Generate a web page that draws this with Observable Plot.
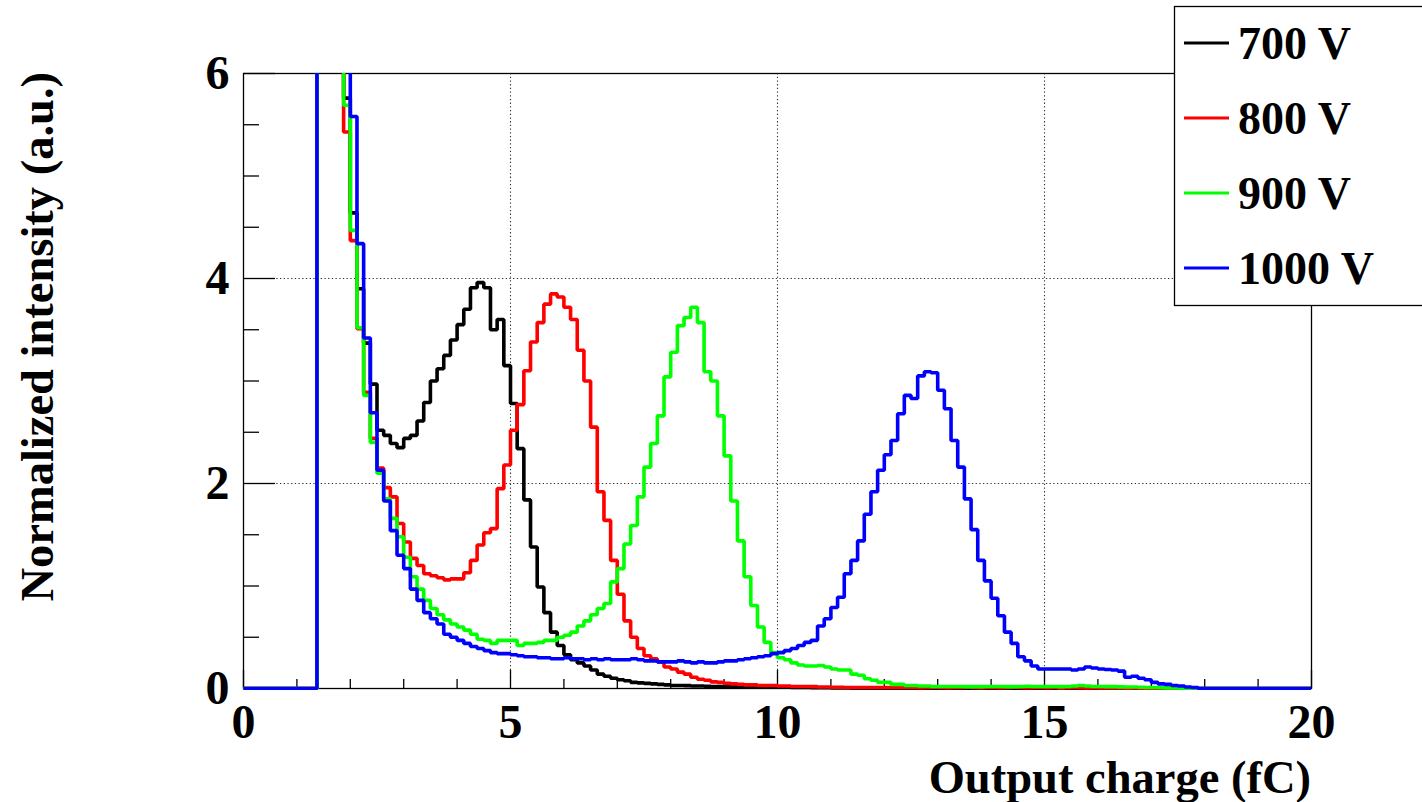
<!DOCTYPE html>
<html>
<head>
<meta charset="utf-8">
<script src="https://cdn.jsdelivr.net/npm/d3@7"></script>
<script src="https://cdn.jsdelivr.net/npm/@observablehq/plot@0.6"></script>
<style>
  html, body { margin: 0; padding: 0; background: #fff; overflow: hidden; }
  #chart { width: 1422px; height: 802px; }
</style>
</head>
<body>
<div id="chart"></div>
<script>
// ---- data ----
const binWidth = 0.125;          // fC per bin, 160 bins over 0..20 fC
const series = ["700 V", "800 V", "900 V", "1000 V"];
const colors = ["#000000", "#ff0000", "#00ff00", "#0000ff"];
const xMajor = [0, 5, 10, 15, 20];
const xMinor = [1, 2, 3, 4, 6, 7, 8, 9, 11, 12, 13, 14, 16, 17, 18, 19];
const yMajor = [0, 2, 4, 6];
const yMinor = [0.5, 1, 1.5, 2.5, 3, 3.5, 4.5, 5, 5.5];
const xGrid = [5, 10, 15];
const yGrid = [2, 4];
const xTitle = "Output charge (fC)";
const yTitle = "Normalized intensity (a.u.)";

// bin contents (values above 6 run off the top of the frame)
const v700 = [
  0,0,0,0,0,0,0,0,0,0,
  0,12,12,12,12,5.76,4.64,3.90,3.37,2.97,
  2.52,2.47,2.39,2.35,2.44,2.47,2.61,2.79,3.00,3.12,
  3.25,3.40,3.55,3.70,3.91,3.96,3.91,3.50,3.60,3.15,
  2.78,2.34,1.84,1.38,0.99,0.74,0.55,0.42,0.33,0.28,
  0.25,0.22,0.18,0.14,0.12,0.10,0.085,0.075,0.06,0.055,
  0.05,0.045,0.04,0.035,0.03,0.03,0.028,0.025,0.025,0.022,
  0.02,0.02,0.018,0.018,0.016,0.016,0.015,0.015,0.014,0.014,
  0.012,0.012,0.01,0.01,0.01,0.008,0.008,0.007,0.006,0.005,
  0.005,0.004,0.004,0.003,0.003,0.002,0.002,0.002,0.001,0.001,
  0,0,0,0,0,0,0,0,0,0,
  0,0,0,0,0,0,0,0,0,0,
  0,0,0,0,0,0,0,0,0,0,
  0,0,0,0,0,0,0,0,0,0,
  0,0,0,0,0,0,0,0,0,0,
  0,0,0,0,0,0,0,0,0,0
];
const v800 = [
  0,0,0,0,0,0,0,0,0,0,
  0,12,12,12,12,5.43,4.37,3.51,2.89,2.44,
  2.15,1.96,1.87,1.61,1.43,1.27,1.20,1.12,1.10,1.08,
  1.06,1.07,1.07,1.13,1.25,1.40,1.52,1.56,1.95,2.18,
  2.52,2.77,3.10,3.38,3.57,3.75,3.85,3.82,3.72,3.60,
  3.30,3.00,2.55,1.92,1.64,1.25,0.92,0.66,0.50,0.39,
  0.32,0.29,0.26,0.21,0.19,0.16,0.14,0.11,0.09,0.08,
  0.065,0.06,0.05,0.045,0.04,0.035,0.035,0.03,0.03,0.03,
  0.025,0.025,0.02,0.02,0.02,0.018,0.015,0.015,0.012,0.012,
  0.01,0.01,0.01,0.01,0.01,0.01,0.01,0.01,0.01,0.01,
  0.01,0.008,0.01,0.012,0.01,0.008,0.01,0.01,0.012,0.01,
  0.008,0.01,0.01,0.008,0.01,0.012,0.01,0.008,0.01,0.01,
  0.008,0.01,0.006,0.008,0.01,0.008,0.006,0.008,0.006,0.005,
  0.006,0.005,0.004,0.005,0.004,0.003,0.003,0.002,0.002,0.001,
  0,0,0,0,0,0,0,0,0,0,
  0,0,0,0,0,0,0,0,0,0
];
const v900 = [
  0,0,0,0,0,0,0,0,0,0,
  0,12,12,12,12,5.69,4.47,3.52,2.86,2.40,
  2.10,1.85,1.66,1.48,1.28,1.09,0.97,0.86,0.78,0.72,
  0.67,0.63,0.60,0.57,0.53,0.48,0.47,0.44,0.47,0.47,
  0.47,0.42,0.44,0.44,0.45,0.47,0.47,0.50,0.52,0.55,
  0.61,0.66,0.72,0.78,0.83,1.04,1.17,1.41,1.59,1.87,
  2.16,2.39,2.66,3.04,3.28,3.54,3.62,3.72,3.57,3.09,
  3.00,2.66,2.27,1.83,1.44,1.09,0.81,0.60,0.45,0.35,
  0.30,0.28,0.25,0.23,0.22,0.22,0.225,0.21,0.19,0.18,
  0.18,0.14,0.13,0.095,0.08,0.06,0.06,0.04,0.04,0.03,
  0.03,0.025,0.025,0.02,0.02,0.02,0.02,0.02,0.018,0.018,
  0.018,0.02,0.02,0.02,0.018,0.018,0.02,0.022,0.02,0.02,
  0.02,0.02,0.018,0.02,0.025,0.03,0.025,0.02,0.02,0.018,
  0.018,0.016,0.015,0.014,0.012,0.01,0.01,0.008,0.006,0.005,
  0.004,0.003,0.002,0,0,0,0,0,0,0,
  0,0,0,0,0,0,0,0,0,0
];
const v1000 = [
  0,0,0,0,0,0,0,0,0,0,
  0,12,12,12,12,12,5.58,4.34,3.42,2.69,
  2.13,1.83,1.54,1.30,1.17,0.97,0.86,0.74,0.68,0.63,
  0.53,0.50,0.47,0.44,0.41,0.39,0.37,0.35,0.34,0.34,
  0.33,0.32,0.31,0.31,0.30,0.30,0.29,0.29,0.30,0.29,
  0.29,0.28,0.29,0.28,0.29,0.28,0.28,0.28,0.29,0.28,
  0.27,0.27,0.26,0.26,0.26,0.27,0.26,0.25,0.26,0.25,
  0.25,0.26,0.27,0.27,0.28,0.29,0.30,0.31,0.32,0.34,
  0.35,0.37,0.39,0.42,0.45,0.47,0.61,0.68,0.79,0.89,
  1.12,1.25,1.44,1.70,1.92,2.13,2.28,2.42,2.68,2.86,
  2.83,3.05,3.09,3.08,2.91,2.73,2.42,2.16,1.85,1.55,
  1.25,1.05,0.88,0.71,0.55,0.44,0.31,0.27,0.22,0.19,
  0.19,0.19,0.19,0.19,0.18,0.19,0.21,0.20,0.19,0.185,
  0.18,0.17,0.11,0.12,0.10,0.085,0.06,0.045,0.04,0.03,
  0.025,0.015,0.01,0,0,0,0,0,0,0,
  0,0,0,0,0,0,0,0,0,0
];

// ---- build step-outline rows ----
const allValues = [v700, v800, v900, v1000];
const rows = [];
allValues.forEach((vals, i) => {
  vals.forEach((v, k) => rows.push({s: series[i], x: k * binWidth, v}));
  rows.push({s: series[i], x: vals.length * binWidth, v: vals[vals.length - 1]});
});

const W = 1422, H = 802;
const mL = 243, mR = 111, mT = 73, mB = 114;
const fw = W - mL - mR, fh = H - mT - mB;
const FONT = "'Liberation Serif', 'Times New Roman', serif";

const chart = Plot.plot({
  width: W, height: H,
  marginLeft: mL, marginRight: mR, marginTop: mT, marginBottom: mB,
  style: {fontFamily: FONT, fontWeight: "bold", fontSize: "47px", background: "#fff", color: "#000"},
  x: {domain: [0, 20]},
  y: {domain: [0, 6]},
  color: {domain: series, range: colors},
  marks: [
    Plot.ruleX(xGrid, {stroke: "#333", strokeWidth: 1.1, strokeDasharray: "1.3,2.4"}),
    Plot.ruleY(yGrid, {stroke: "#333", strokeWidth: 1.1, strokeDasharray: "1.3,2.4"}),
    Plot.frame({stroke: "#000", strokeWidth: 1.3}),
    Plot.ruleX(xMajor, {stroke: "#000", strokeWidth: 1.3, insetTop: fh - 18}),
    Plot.ruleX(xMinor, {stroke: "#000", strokeWidth: 1.3, insetTop: fh - 9}),
    Plot.ruleY(yMajor, {stroke: "#000", strokeWidth: 1.3, insetRight: fw - 32}),
    Plot.ruleY(yMinor, {stroke: "#000", strokeWidth: 1.3, insetRight: fw - 16}),
    Plot.line(rows, {x: "x", y: "v", z: "s", stroke: "s", curve: "step-after",
      strokeWidth: 3.6, strokeLinejoin: "miter", strokeLinecap: "butt", clip: true}),
    Plot.axisX(xMajor, {tickSize: 0, tickPadding: 15, fontSize: 48, fontWeight: "bold", label: null, tickFormat: d => String(d)}),
    Plot.axisY(yMajor, {tickSize: 0, tickPadding: 14, fontSize: 48, fontWeight: "bold", label: null, tickFormat: d => String(d)})
  ]
});

document.getElementById("chart").appendChild(chart);

const svg = d3.select(chart);
// let the histogram outlines show their full width along the zero line
svg.selectAll("clipPath rect").attr("height", fh + 2);

// ---- titles and legend ----
svg.append("text")
  .attr("x", mL + fw).attr("y", 793)
  .attr("text-anchor", "end")
  .attr("font-family", FONT).attr("font-weight", "bold").attr("font-size", 46.5)
  .attr("fill", "#000")
  .text(xTitle);
svg.append("text")
  .attr("transform", `translate(53,${mT - 1}) rotate(-90)`)
  .attr("text-anchor", "end")
  .attr("font-family", FONT).attr("font-weight", "bold").attr("font-size", 46.5)
  .attr("fill", "#000")
  .text(yTitle);

const lg = svg.append("g");
lg.append("rect")
  .attr("x", 1174.5).attr("y", 6.5).attr("width", 300).attr("height", 299)
  .attr("fill", "#fff").attr("stroke", "#000").attr("stroke-width", 1.3);
series.forEach((name, i) => {
  const cy = 43 + i * 75;
  lg.append("line")
    .attr("x1", 1184).attr("x2", 1229).attr("y1", cy).attr("y2", cy)
    .attr("stroke", colors[i]).attr("stroke-width", 3);
  lg.append("text")
    .attr("x", 1238).attr("y", cy).attr("dy", "0.35em")
    .attr("text-anchor", "start")
    .attr("font-family", FONT).attr("font-weight", "bold").attr("font-size", 46)
    .attr("fill", "#000")
    .text(name);
});
</script>
</body>
</html>
